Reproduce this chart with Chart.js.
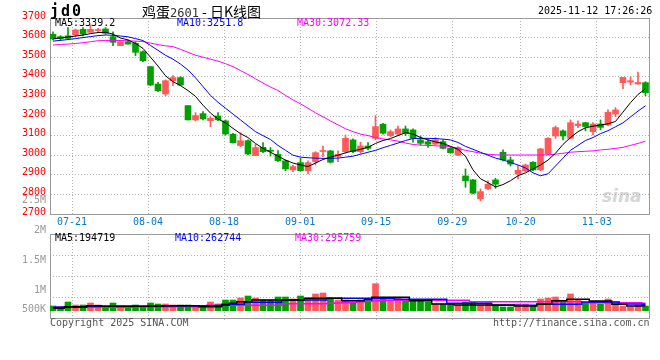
<!DOCTYPE html>
<html><head><meta charset="utf-8">
<script src="https://cdn.jsdelivr.net/npm/chart.js@4.4.0/dist/chart.umd.min.js"></script>
<style>
html,body{margin:0;padding:0;background:#fff;}
#wrap{position:relative;width:660px;height:360px;overflow:hidden;font-family:'DejaVu Sans Mono',monospace;}
canvas{position:absolute;left:0;}
.t{position:absolute;white-space:nowrap;font-family:'DejaVu Sans Mono',monospace;font-size:10px;line-height:12px;}
</style></head><body>
<div id="wrap">
<div class="t" style="left:602px;top:186px;font:italic bold 17px 'DejaVu Sans',sans-serif;color:#d6d6d6;line-height:20px">sina</div>
<canvas id="price" width="660" height="232" style="top:0"></canvas>
<canvas id="vol" width="660" height="145" style="top:190px"></canvas>
<div class="t" style="left:50px;top:2px;font:bold 15px 'DejaVu Sans Mono',monospace;letter-spacing:2px;line-height:18px;color:#000">jd0</div>
<div class="t" style="left:142px;top:2px;font:14px 'Noto Sans CJK SC',sans-serif;line-height:18px;color:#000">鸡蛋<span style="font:12px 'DejaVu Sans Mono',monospace;color:#333">2601</span> - 日K线图</div>
<div class="t" style="left:538px;top:5px;color:#000">2025-11-12 17:26:26</div>
<div class="t" style="left:55px;top:17px;color:#000">MA5:3339.2</div>
<div class="t" style="left:177px;top:17px;color:#0000ff">MA10:3251.8</div>
<div class="t" style="left:297px;top:17px;color:#ff00ff">MA30:3072.33</div>
<div class="t" style="left:55px;top:232px;color:#000">MA5:194719</div>
<div class="t" style="left:175px;top:232px;color:#0000ff">MA10:262744</div>
<div class="t" style="left:295px;top:232px;color:#ff00ff">MA30:295759</div>
<div class="t" style="left:50px;top:317px;color:#555">Copyright 2025 SINA.COM</div>
<div class="t" style="left:493px;top:317px;color:#555">http://finance.sina.com.cn</div>
</div>
<script>
// ---- data ----
const dates = ['07-16','07-17','07-18','07-21','07-22','07-23','07-24','07-25','07-28','07-29','07-30','07-31','08-01',
'08-04','08-05','08-06','08-07','08-08','08-11','08-12','08-13','08-14','08-15',
'08-18','08-19','08-20','08-21','08-22','08-25','08-26','08-27','08-28','08-29',
'09-01','09-02','09-03','09-04','09-05','09-08','09-09','09-10','09-11','09-12',
'09-15','09-16','09-17','09-18','09-19','09-22','09-23','09-24','09-25','09-26',
'09-29','09-30','10-09','10-10','10-13','10-14','10-15','10-16','10-17',
'10-20','10-21','10-22','10-23','10-24','10-27','10-28','10-29','10-30','10-31',
'11-03','11-04','11-05','11-06','11-07','11-10','11-11','11-12'];
const opens  = [3617,3605,3609,3613,3642,3627,3636,3644,3605,3559,3579,3571,3528,3452,3363,3312,3380,3396,3253,3180,
3212,3176,3200,3175,3107,3049,3074,2998,3040,3023,3004,2971,2925,2962,2921,2967,3019,3022,2994,3018,
3078,3018,3047,3086,3158,3100,3108,3134,3129,3078,3069,3056,3069,3035,3001,2894,2874,2777,2828,2874,
3015,2976,2904,2920,2964,2925,3006,3098,3124,3086,3151,3166,3120,3159,3154,3210,3370,3373,3363,3370];
const highs  = [3630,3610,3651,3644,3651,3664,3647,3651,3630,3588,3588,3579,3532,3452,3372,3384,3406,3401,3253,3217,
3222,3197,3217,3180,3112,3115,3078,3056,3064,3039,3023,2976,2950,2984,2971,3018,3047,3025,3022,3103,
3083,3066,3064,3202,3163,3129,3149,3149,3134,3098,3078,3090,3078,3040,3044,2930,2877,2828,2869,2882,
3027,2991,2947,2955,2967,3035,3090,3149,3129,3180,3175,3168,3166,3180,3231,3243,3397,3400,3424,3375];
const lows   = [3588,3585,3590,3605,3608,3622,3627,3617,3559,3559,3566,3508,3477,3355,3324,3304,3355,3355,3180,3175,
3180,3146,3176,3103,3061,3044,3001,2998,3013,2996,2967,2921,2916,2919,2904,2950,2993,2960,2967,3010,
3013,3010,3027,3078,3107,3095,3103,3100,3066,3052,3040,3052,3032,3010,2998,2836,2802,2767,2824,2831,
2971,2945,2879,2916,2920,2921,3001,3086,3078,3083,3141,3124,3103,3129,3151,3197,3339,3358,3363,3304];
const closes = [3593,3595,3596,3639,3618,3642,3638,3622,3576,3579,3567,3525,3482,3358,3329,3380,3396,3358,3180,3202,
3185,3188,3180,3108,3064,3074,3006,3039,3018,3020,2972,2930,2942,2921,2962,3013,3021,2964,3005,3086,
3018,3047,3035,3146,3112,3120,3134,3112,3086,3061,3056,3078,3035,3013,3039,2869,2806,2814,2852,2852,
2976,2955,2923,2950,2925,3032,3086,3141,3098,3166,3159,3146,3159,3142,3219,3231,3397,3380,3371,3319];
const ma5  = [3594,3598,3603,3608,3613,3620,3626,3627,3618,3598,3588,3570,3545,3500,3455,3405,3375,3355,3330,3300,
3255,3215,3185,3165,3137,3110,3090,3060,3035,3015,2995,2975,2960,2950,2942,2960,2978,2990,3000,3012,
3022,3030,3040,3060,3075,3085,3100,3115,3108,3090,3078,3068,3060,3045,3030,2995,2925,2880,2860,2838,
2850,2870,2895,2910,2930,2950,2975,3010,3055,3090,3120,3140,3148,3154,3160,3172,3220,3268,3310,3339];
const ma10 = [3582,3586,3590,3595,3600,3605,3610,3613,3612,3608,3604,3595,3585,3560,3535,3510,3490,3465,3435,3395,
3350,3305,3270,3240,3210,3180,3150,3120,3100,3080,3050,3025,3000,2990,2987,2985,2984,2984,2985,2990,
2995,3005,3015,3025,3038,3050,3062,3075,3085,3086,3086,3085,3082,3078,3065,3045,3030,3015,3000,2985,
2976,2963,2950,2935,2910,2895,2905,2945,2985,3025,3050,3075,3090,3110,3125,3145,3165,3195,3225,3252];
const ma30 = [3562,3565,3567,3570,3574,3579,3584,3585,3585,3585,3584,3582,3580,3572,3564,3558,3554,3540,3525,3510,
3500,3490,3480,3467,3452,3432,3412,3390,3368,3348,3330,3305,3282,3262,3240,3216,3196,3175,3155,3135,
3120,3108,3100,3090,3083,3078,3072,3062,3055,3051,3050,3048,3046,3044,3035,3025,3018,3010,3005,3002,
3001,3001,3001,3001,3001,3001,3002,3005,3010,3015,3018,3020,3022,3027,3030,3035,3040,3050,3060,3072];
const volumes = [188000,160000,348000,228000,228000,308000,228000,176000,308000,188000,176000,228000,176000,308000,268000,268000,228000,228000,228000,176000,
176000,348000,268000,428000,428000,508000,588000,508000,428000,428000,548000,548000,468000,588000,508000,668000,708000,508000,428000,428000,
308000,428000,348000,1080000,536000,428000,508000,428000,388000,388000,348000,268000,268000,268000,228000,348000,348000,228000,308000,188000,
148000,148000,268000,268000,188000,468000,508000,548000,348000,668000,428000,308000,348000,268000,468000,348000,188000,148000,228000,188000];
const volMa5 = [96000,96000,160000,160000,160000,200000,200000,176000,176000,176000,176000,176000,176000,176000,176000,200000,200000,200000,200000,200000,
160000,160000,160000,228000,296000,360000,360000,428000,428000,428000,428000,428000,428000,428000,496000,496000,496000,496000,496000,400000,
400000,400000,440000,536000,536000,536000,536000,536000,400000,400000,400000,268000,268000,268000,228000,228000,228000,228000,228000,228000,
228000,228000,188000,188000,188000,256000,256000,400000,400000,456000,456000,456000,388000,388000,388000,256000,256000,188000,188000,194719];
const volMa10 = [136000,136000,136000,136000,136000,176000,176000,176000,176000,176000,176000,176000,176000,176000,176000,176000,200000,200000,200000,200000,
200000,200000,200000,256000,256000,256000,336000,336000,336000,336000,336000,428000,428000,428000,428000,428000,428000,496000,496000,496000,
496000,496000,496000,496000,496000,496000,456000,456000,456000,456000,456000,456000,456000,296000,296000,296000,296000,296000,296000,216000,
216000,216000,216000,216000,216000,256000,256000,256000,256000,256000,256000,348000,348000,348000,348000,348000,268000,268000,268000,262744];
const volMa30 = [136000,136000,136000,136000,136000,136000,136000,136000,136000,136000,136000,160000,160000,160000,160000,160000,160000,160000,160000,160000,
160000,220000,220000,220000,220000,220000,220000,220000,220000,220000,220000,280000,280000,280000,280000,280000,280000,300000,310000,320000,
340000,360000,380000,400000,410000,420000,420000,420000,420000,420000,420000,420000,420000,420000,420000,420000,360000,360000,360000,360000,
360000,360000,360000,360000,360000,360000,360000,360000,360000,360000,360000,320000,320000,320000,320000,320000,320000,320000,320000,295759];
const xTickLabels = ['07-21','08-04','08-18','09-01','09-15','09-29','10-20','11-03'];
const volTickLabels = ['500K','1M','1.5M','2M','2.5M'];
const volTickValues = [680000,1000000,1500000,2000000,2500000];

// ---- styles / helpers ----
const UP = '#ff5a5a', DOWN = '#00a000';
const idx = dates.map((d, i) => i);
const dirColor = i => closes[i] >= opens[i] ? UP : DOWN;
const gridIdx = xTickLabels.map(l => dates.indexOf(l));
const mono = {family: "'DejaVu Sans Mono', monospace", size: 10};
const fixW = w => s => { s.width = w; };
const fixH = h => s => { s.height = h; };
const GRID = '#b4b4b4', FRAME = '#9a9a9a';
const XMIN = -0.4, XMAX = 79.467;     // candle positions
const GMIN = 0.105, GMAX = 78.88;     // date grid positions
const common = {responsive: false, animation: false, devicePixelRatio: 1,
  plugins: {legend: {display: false}, tooltip: {enabled: false}}};
const line = (data, color, w, stepped) => ({type: 'line', data: idx.map(i => ({x: i, y: data[i]})),
  borderColor: color, borderWidth: w, pointRadius: 0, tension: 0, stepped: stepped || false,
  xAxisID: 'x', yAxisID: 'y', order: 0});
const candleAxis = () => ({type: 'linear', display: false, min: XMIN, max: XMAX, offset: false, grid: {offset: false}});
const dateAxis = (h, showLabels) => ({type: 'linear', position: 'bottom', min: GMIN, max: GMAX, offset: false,
  afterBuildTicks: s => { s.ticks = gridIdx.map(v => ({value: v})); }, afterFit: fixH(h),
  ticks: {display: showLabels, autoSkip: false, maxRotation: 0, color: '#0a78c8', font: mono, padding: 2,
    callback: v => dates[v]},
  grid: {offset: false, color: GRID, drawTicks: !showLabels, tickLength: 3, tickColor: GRID, tickBorderDash: [1, 2]},
  border: {color: FRAME, dash: [1, 2]}});
const frameAxis = (pos) => ({type: 'linear', position: pos, min: 0, max: 1, offset: false,
  afterFit: (pos === 'top' ? fixH(0) : fixW(0)), ticks: {display: false},
  grid: {display: false, drawTicks: false, offset: false}, border: {color: FRAME}});

// ---- price chart ----
new Chart(document.getElementById('price'), {
  type: 'bar',
  data: {datasets: [
    line(ma5, '#000000', 1), line(ma10, '#0000ff', 1), line(ma30, '#ff00ff', 1),
    {data: idx.map(i => ({x: i, y: [opens[i], closes[i]]})), backgroundColor: idx.map(dirColor),
      barThickness: 6, minBarLength: 1, grouped: false, order: 3, xAxisID: 'x', yAxisID: 'y'},
    {data: idx.map(i => ({x: i, y: [lows[i], highs[i]]})), backgroundColor: idx.map(dirColor),
      barThickness: 1, grouped: false, order: 4, xAxisID: 'x', yAxisID: 'y'}
  ]},
  options: Object.assign({}, common, {
    layout: {padding: {top: 18, right: 11, left: 0, bottom: 0}},
    scales: {
      x: candleAxis(),
      xg: dateAxis(18, true),
      xt: frameAxis('top'),
      y: {type: 'linear', position: 'left', min: 2700, max: 3700, afterFit: fixW(50),
        ticks: {stepSize: 100, autoSkip: false, color: '#ff0000', font: mono, padding: 4, labelOffset: -2,
          callback: v => String(v)},
        grid: {color: GRID, drawTicks: false}, border: {color: FRAME, dash: [1, 2]}},
      yr: frameAxis('right')
    }
  })
});

// ---- volume chart ----
new Chart(document.getElementById('vol'), {
  type: 'bar',
  data: {datasets: [
    line(volMa5, '#000000', 1.5, 'middle'), line(volMa10, '#0000ff', 1.5, 'middle'), line(volMa30, '#ff00ff', 1.5, 'middle'),
    {data: idx.map(i => ({x: i, y: volumes[i]})), backgroundColor: idx.map(dirColor),
      barThickness: 6, grouped: false, order: 3, xAxisID: 'x', yAxisID: 'y'}
  ]},
  options: Object.assign({}, common, {
    layout: {padding: {top: 44, right: 11, left: 0, bottom: 0}},
    scales: {
      x: candleAxis(),
      xg: dateAxis(17, false),
      xt: frameAxis('top'),
      y: {type: 'linear', position: 'right', min: -292000, max: 3068000, afterFit: fixW(0),
        afterBuildTicks: s => { s.ticks = [0, 1, 2, 3, 4].map(k => ({value: s.min + k * (s.max - s.min) / 4})); },
        ticks: {display: false}, grid: {color: GRID, drawTicks: false}, border: {color: FRAME, dash: [1, 2]}},
      yl: {type: 'linear', position: 'left', min: 545000, max: 1945000, afterFit: fixW(50),
        afterBuildTicks: s => { s.ticks = volTickValues.map(v => ({value: v})); },
        ticks: {autoSkip: false, color: '#999999', font: mono, padding: 4, callback: (v, i) => volTickLabels[i]},
        grid: {display: false, drawTicks: false}, border: {color: FRAME}}
    }
  })
});
</script>
</body></html>
